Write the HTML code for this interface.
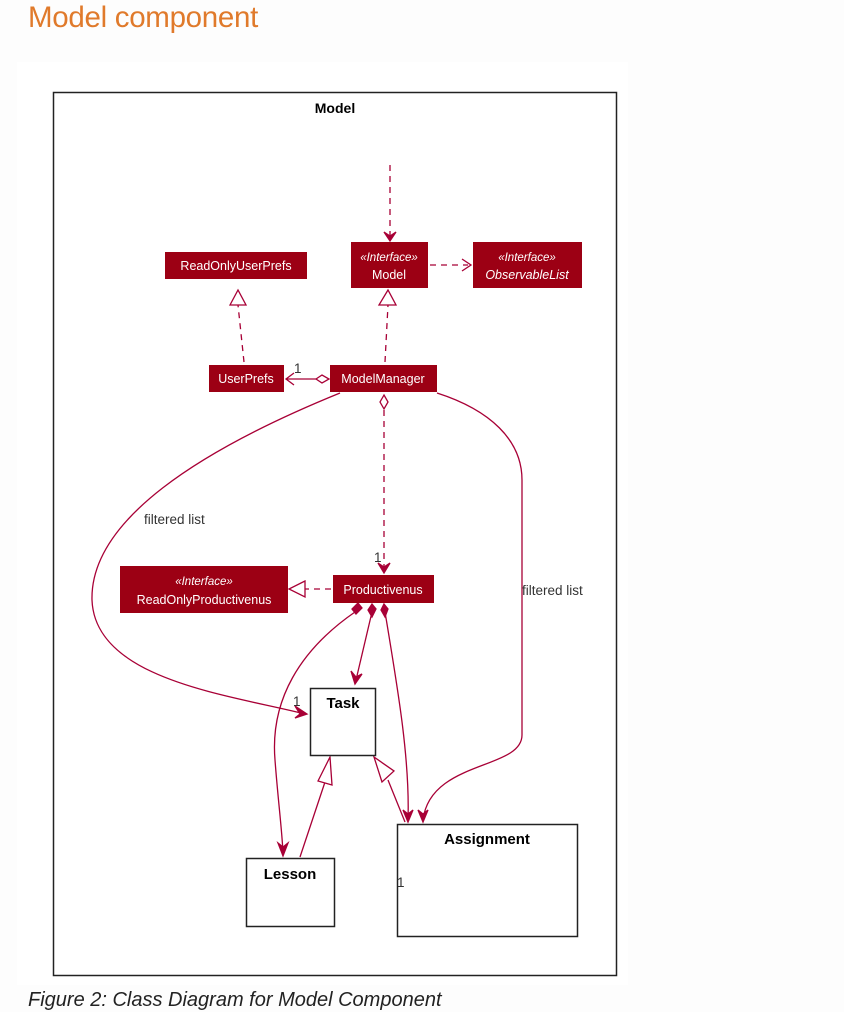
<!DOCTYPE html>
<html><head><meta charset="utf-8"><style>
html,body{margin:0;padding:0;background:#fdfdfd;width:844px;height:999px;overflow:hidden;font-family:"Liberation Sans",sans-serif}
h2{position:absolute;left:28px;top:1px;margin:0;font-weight:normal;font-size:29.5px;color:#e07a2b;letter-spacing:-0.3px}
.cap{position:absolute;left:28px;top:989px;font-style:italic;font-size:20px;color:#222}
</style></head><body>
<h2>Model component</h2>
<svg width="844" height="999" style="position:absolute;left:0;top:0" xmlns="http://www.w3.org/2000/svg" font-family="Liberation Sans, sans-serif">
<rect x="17" y="62" width="611" height="923" fill="#fff"/>
<rect x="53.5" y="92.5" width="563" height="883" fill="none" stroke="#222" stroke-width="1.5"/>
<text x="335" y="113" font-size="14" font-weight="bold" text-anchor="middle" fill="#000">Model</text>
<g stroke="#a80036" stroke-width="1.3" fill="none">
<path d="M390 165 L390 238" stroke-dasharray="6,5"/>
<path d="M384 232 L390 241 L396 232 L390 236 Z" fill="#a80036"/>
<path d="M430 265 L468 265" stroke-dasharray="6,5"/>
<path d="M462 259 L471 265 L462 271"/>
<path d="M385 362 L388 305" stroke-dasharray="6,5"/>
<path d="M379 305 L388 290 L396 305 Z" fill="#fff"/>
<path d="M244 362 L238 305" stroke-dasharray="6,5"/>
<path d="M230 305 L238 290 L246 305 Z" fill="#fff"/>
<path d="M316 379 L286 379"/>
<path d="M294 373 L286 379 L294 385"/>
<path d="M316 379 L322 375 L329 379 L322 383 Z" fill="#fff"/>
<path d="M384 410 L384 570" stroke-dasharray="6,5"/>
<path d="M384 395 L388 402 L384 409 L380 402 Z" fill="#fff"/>
<path d="M378 563 L384 573 L390 563 L384 567 Z" fill="#a80036"/>
<path d="M331 589 L305 589" stroke-dasharray="6,5"/>
<path d="M305 581 L289 589 L305 597 Z" fill="#fff"/>
<path d="M340 393 C200 450 90 520 92 600 C95 680 230 695 305 714"/>
<path d="M295 706 L307 714 L295 718 L300 714 Z" fill="#a80036"/>
<path d="M437 393 C490 410 522 440 522 480 L522 735 C522 770 430 760 423 820"/>
<path d="M418 810 L423 822 L428 810 L423 814 Z" fill="#a80036"/>
<path d="M372 612 L356 680"/>
<path d="M351 671 L355 684 L362 674 L356 677 Z" fill="#a80036"/>
<path d="M372 604 L376 609 L372 617 L368 610 Z" fill="#a80036"/>
<path d="M385 612 C398 690 410 760 408 820"/>
<path d="M384 604 L388 609 L385 617 L381 610 Z" fill="#a80036"/>
<path d="M403 810 L408 822 L413 810 L408 814 Z" fill="#a80036"/>
<path d="M355 612 C300 650 270 700 275 760 C278 800 282 830 283 853"/>
<path d="M358 603 L362 608 L356 614 L352 609 Z" fill="#a80036"/>
<path d="M278 843 L283 856 L288 843 L283 847 Z" fill="#a80036"/>
<path d="M300 857 L325 782"/>
<path d="M318 781 L330 757 L332 785 Z" fill="#fff"/>
<path d="M405 822 C398 805 392 790 388 780"/>
<path d="M382 782 L374 757 L394 771 Z" fill="#fff"/>
</g>
<g fill="#9c0014">
<rect x="165" y="252" width="142" height="27"/>
<rect x="351" y="242" width="77" height="46"/>
<rect x="473" y="242" width="109" height="46"/>
<rect x="209" y="365" width="75" height="27"/>
<rect x="330" y="365" width="107" height="27"/>
<rect x="120" y="566" width="168" height="47"/>
<rect x="333" y="575" width="101" height="28"/>
</g>
<g fill="#fff" font-size="12.5" text-anchor="middle">
<text x="236" y="270">ReadOnlyUserPrefs</text>
<text x="389" y="261" font-style="italic" font-size="11.5">«Interface»</text>
<text x="389" y="279">Model</text>
<text x="527" y="261" font-style="italic" font-size="11.5">«Interface»</text>
<text x="527" y="279" font-style="italic">ObservableList</text>
<text x="246" y="383">UserPrefs</text>
<text x="383" y="383">ModelManager</text>
<text x="204" y="585" font-style="italic" font-size="11.5">«Interface»</text>
<text x="204" y="604">ReadOnlyProductivenus</text>
<text x="383" y="594">Productivenus</text>
</g>
<g fill="#fff" stroke="#222" stroke-width="1.5">
<rect x="310.5" y="688.5" width="65" height="67"/>
<rect x="246.5" y="858.5" width="88" height="68"/>
<rect x="397.5" y="824.5" width="180" height="112"/>
</g>
<g fill="#000" font-size="15" font-weight="bold" text-anchor="middle">
<text x="343" y="708">Task</text>
<text x="290" y="879">Lesson</text>
<text x="487" y="844">Assignment</text>
</g>
<g fill="#333" font-size="13.5">
<text x="294" y="373">1</text>
<text x="374" y="562">1</text>
<text x="293" y="706">1</text>
<text x="397" y="887">1</text>
<text x="144" y="524">filtered list</text>
<text x="522" y="595">filtered list</text>
</g>
</svg>
<div class="cap">Figure 2: Class Diagram for Model Component</div>
</body></html>
